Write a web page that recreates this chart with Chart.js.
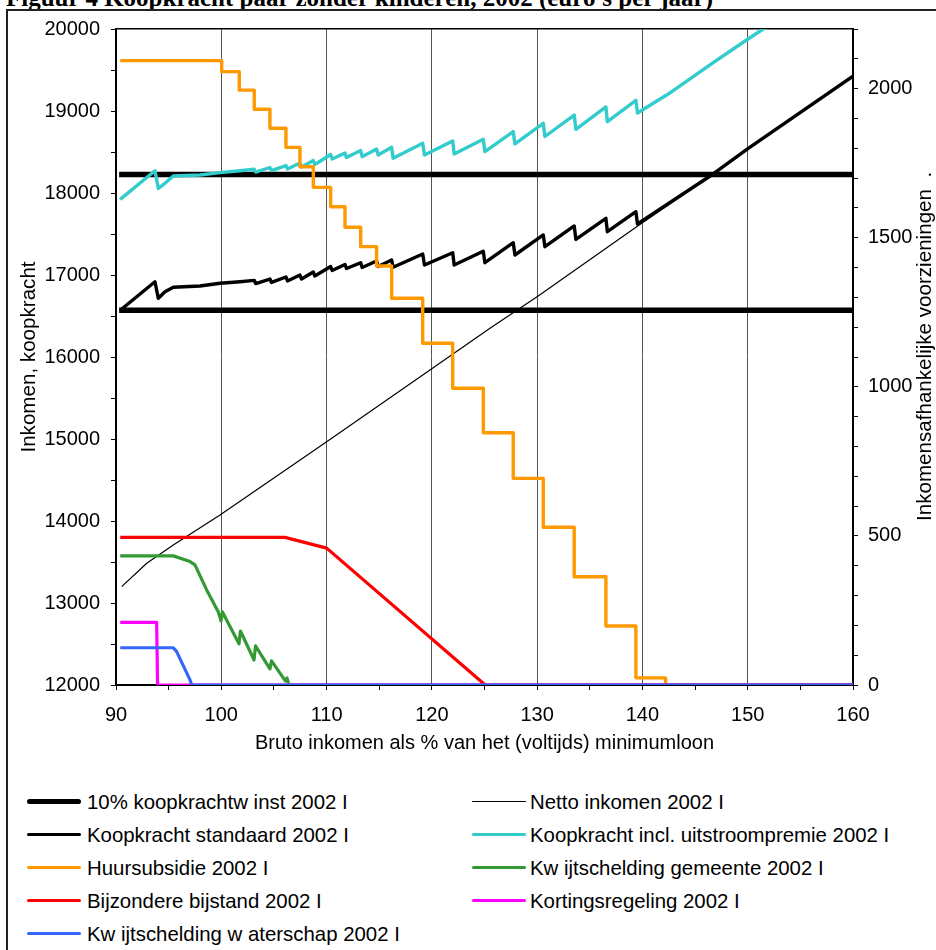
<!DOCTYPE html>
<html><head><meta charset="utf-8">
<script src="https://cdn.jsdelivr.net/npm/chart.js@4.4.0/dist/chart.umd.min.js"></script>
<style>
html,body{margin:0;padding:0;background:#fff;width:936px;height:950px;overflow:hidden;font-family:'Liberation Sans',Arial,sans-serif;}
#title{position:absolute;left:6px;top:-15px;font:bold 25px 'Liberation Serif','Times New Roman',serif;line-height:25px;white-space:nowrap;color:#000;}
#frame{position:absolute;left:6px;top:9px;width:960px;height:980px;border-left:2px solid #222;border-top:2px solid #222;box-sizing:border-box;}
#c{position:absolute;left:0;top:0;}
.lg-line{position:absolute;}
.lg-text{position:absolute;font-size:20.4px;line-height:24px;height:24px;white-space:pre;color:#000;}
</style></head>
<body>
<div id="title">Figuur 4 Koopkracht paar zonder kinderen, 2002 (euro's per jaar)</div>
<div id="frame"></div>
<canvas id="c" width="936" height="770"></canvas>
<div id="legend"></div>
<script>
// ---------- data ----------
const xTickLabels = [90, 100, 110, 120, 130, 140, 150, 160];
const yTickLabels = [12000, 13000, 14000, 15000, 16000, 17000, 18000, 19000, 20000];
const y2TickLabels = [0, 500, 1000, 1500, 2000];

const xTitle = 'Bruto inkomen als % van het (voltijds) minimumloon';
const yTitle = 'Inkomen, koopkracht';
const y2Title = 'Inkomensafhankelijke voorzieningen  .';

const winstX = [90.3, 160, 125, 90.3, 160];
const winstY = [16570, 16570, null, 18227, 18227];

const nettoX = [90.54, 92.92, 95.44, 99.88, 110.01, 119.82, 125.52, 130.1, 139.45, 146.72, 150.05, 160];
const nettoY = [13199, 13484, 13707, 14073, 14967, 15842, 16350, 16744, 17589, 18232, 18545, 19425];

const standaardX = [90.4, 93.70, 94.02, 94.65, 95.44, 97.98, 99.88, 101.78, 103.13, 103.27, 104.62, 104.77, 106.14, 106.29, 107.47, 107.62, 108.74, 108.88, 110.39, 110.53, 111.75, 111.89, 113.24, 113.38, 114.75, 114.90, 116.18, 116.32, 119.13, 119.30, 121.98, 122.12, 124.88, 125.04, 127.73, 127.89, 130.58, 130.74, 133.52, 133.68, 136.53, 136.67, 139.38, 139.53, 146.72, 150.05, 160];
const standaardY = [16570, 16918, 16716, 16796, 16850, 16866, 16899, 16918, 16935, 16896, 16951, 16909, 16976, 16927, 17000, 16951, 17037, 16988, 17104, 17055, 17128, 17079, 17150, 17092, 17171, 17104, 17183, 17094, 17256, 17122, 17272, 17122, 17289, 17150, 17394, 17244, 17488, 17345, 17598, 17435, 17691, 17528, 17772, 17622, 18232, 18545, 19425];

const uitstroomX = [90.4, 93.70, 94.02, 94.65, 95.44, 97.98, 99.88, 101.78, 103.13, 103.27, 104.62, 104.77, 106.14, 106.29, 107.47, 107.62, 108.74, 108.88, 110.39, 110.53, 111.75, 111.89, 113.24, 113.38, 114.75, 114.90, 116.18, 116.32, 119.13, 119.30, 121.98, 122.12, 124.88, 125.04, 127.73, 127.89, 130.58, 130.74, 133.52, 133.68, 136.53, 136.67, 139.38, 139.53, 142.45, 146.72, 149.89, 151.47, 154];
const uitstroomY = [17923, 18272, 18057, 18118, 18207, 18220, 18248, 18272, 18289, 18256, 18311, 18274, 18335, 18293, 18366, 18317, 18396, 18348, 18470, 18415, 18488, 18433, 18518, 18443, 18537, 18463, 18557, 18423, 18606, 18463, 18634, 18476, 18655, 18504, 18748, 18598, 18850, 18689, 18951, 18777, 19049, 18870, 19130, 18976, 19207, 19591, 19866, 20000, 20220];

const huurX = [90.4, 100.04, 101.71, 103.13, 104.62, 106.14, 107.47, 108.74, 110.39, 111.75, 113.24, 114.75, 116.18, 119.13, 121.98, 124.89, 127.73, 130.58, 133.52, 136.53, 139.38, 142.2, 160];
const huurY = [2094, 2057, 1995, 1931, 1867, 1803, 1738, 1669, 1604, 1535, 1470, 1405, 1297, 1146, 995, 846, 693, 529, 363, 198, 24, 0, 0];

const gemeenteX = [90.4, 95.44, 97.03, 97.5, 98.61, 99.71, 99.97, 100.11, 101.68, 101.82, 103.11, 103.25, 104.62, 104.77, 106.1, 106.24, 106.43, 160];
const gemeenteY = [433, 433, 414, 403, 319, 246, 215, 245, 138, 181, 84, 131, 54, 81, 13, 24, 0, 0];

const bijstandX = [90.4, 106.05, 110.01, 124.88, 125.1, 160];
const bijstandY = [495, 495, 459, 6, 0, 0];

const kortingX = [90.4, 93.86, 93.95, 160];
const kortingY = [210, 210, 0, 0];

const waterschapX = [90.4, 95.44, 95.76, 97.03, 97.19, 160];
const waterschapY = [125, 125, 112, 17, 0, 0];

// ---------- build ----------
const pts = (xs, ys) => xs.map((x, i) => ({x: x, y: ys[i]}));

const series = [
  {label: '10% koopkrachtw inst 2002 I', xs: winstX, ys: winstY, color: '#000000', width: 5.5, lw: 5, axis: 'y'},
  {label: 'Netto inkomen 2002 I', xs: nettoX, ys: nettoY, color: '#000000', width: 1.2, lw: 1.5, axis: 'y'},
  {label: 'Koopkracht standaard 2002 I', xs: standaardX, ys: standaardY, color: '#000000', width: 3.4, lw: 3.5, axis: 'y'},
  {label: 'Koopkracht incl. uitstroompremie 2002 I', xs: uitstroomX, ys: uitstroomY, color: '#33CCCC', width: 3.4, lw: 3.5, axis: 'y'},
  {label: 'Huursubsidie 2002 I', xs: huurX, ys: huurY, color: '#FF9900', width: 3.4, lw: 3.5, axis: 'y2', stepped: 'before'},
  {label: 'Kw ijtschelding gemeente 2002 I', xs: gemeenteX, ys: gemeenteY, color: '#339933', width: 3.2, lw: 3.5, axis: 'y2'},
  {label: 'Bijzondere bijstand 2002 I', xs: bijstandX, ys: bijstandY, color: '#FF0000', width: 3.2, lw: 3.5, axis: 'y2'},
  {label: 'Kortingsregeling 2002 I', xs: kortingX, ys: kortingY, color: '#FF00FF', width: 3.2, lw: 3.5, axis: 'y2'},
  {label: 'Kw ijtschelding w aterschap 2002 I', xs: waterschapX, ys: waterschapY, color: '#3366FF', width: 3.2, lw: 3.5, axis: 'y2'}
];

const datasets = series.map((s, i) => ({
  label: s.label,
  data: pts(s.xs, s.ys),
  borderColor: s.color,
  backgroundColor: s.color,
  borderWidth: s.width,
  pointRadius: 0,
  pointHoverRadius: 0,
  tension: 0,
  fill: false,
  spanGaps: false,
  stepped: s.stepped || false,
  borderJoinStyle: 'round',
  yAxisID: s.axis,
  order: series.length - i
}));

Chart.defaults.font.family = "'Liberation Sans', Arial, sans-serif";
Chart.defaults.font.size = 20;
Chart.defaults.color = '#000';

const rightTitle = {
  id: 'rightTitle',
  afterDraw(chart) {
    const c = chart.ctx;
    c.save();
    c.font = "20.6px 'Liberation Sans', Arial, sans-serif";
    c.fillStyle = '#000';
    c.textAlign = 'left';
    c.textBaseline = 'middle';
    c.translate(925, 521);
    c.rotate(-Math.PI / 2);
    c.fillText(y2Title, 0, 0);
    c.restore();
  }
};

new Chart(document.getElementById('c'), {
  type: 'line',
  data: {datasets: datasets},
  plugins: [rightTitle],
  options: {
    responsive: false,
    animation: false,
    events: [],
    layout: {padding: {left: 0, right: 0, top: 29, bottom: 0}},
    plugins: {legend: {display: false}, tooltip: {enabled: false}},
    scales: {
      x: {
        type: 'linear', position: 'bottom', min: 90, max: 160,
        afterFit: s => { s.height = 85; },
        ticks: {stepSize: 5, autoSkip: false, maxRotation: 0, padding: 13,
          callback: v => xTickLabels.includes(v) ? String(v) : ''},
        grid: {drawOnChartArea: true, tickLength: 5, tickColor: '#000', lineWidth: 1,
          color: ctx => (ctx.tick && xTickLabels.includes(ctx.tick.value) && ctx.tick.value > 90 && ctx.tick.value < 160) ? '#555' : 'rgba(0,0,0,0)'},
        border: {display: true, color: '#000', width: 2},
        title: {display: true, text: xTitle, padding: {top: 0, bottom: 15}}
      },
      xTop: {
        type: 'linear', position: 'top', min: 90, max: 160,
        afterFit: s => { s.height = 0; },
        ticks: {display: false},
        grid: {display: false, drawTicks: false},
        border: {display: true, color: '#000', width: 1.5}
      },
      y: {
        type: 'linear', position: 'left', min: 12000, max: 20000,
        afterFit: s => { s.width = 116; },
        ticks: {stepSize: 500, autoSkip: false, padding: 11,
          callback: v => yTickLabels.includes(v) ? String(v) : ''},
        grid: {drawOnChartArea: false, tickLength: 5, color: '#000'},
        border: {display: true, color: '#000', width: 2},
        title: {display: true, text: yTitle, padding: {top: 17, bottom: 0}, font: {size: 20.6}}
      },
      y2: {
        type: 'linear', position: 'right', min: 0, max: 2200,
        afterFit: s => { s.width = 83; },
        ticks: {stepSize: 100, autoSkip: false, padding: 10,
          callback: v => y2TickLabels.includes(v) ? String(v) : ''},
        grid: {drawOnChartArea: false, tickLength: 5, color: '#000'},
        border: {display: true, color: '#000', width: 2}
      }
    }
  }
});

// ---------- legend (two columns, built from the series) ----------
const legendLayout = {lineLeft: [27, 472], textLeft: [87, 530], lineLen: 54, rowTop: 801.5, rowStep: 33};
const lg = document.getElementById('legend');
series.forEach((s, i) => {
  const col = i % 2, row = Math.floor(i / 2);
  const cy = legendLayout.rowTop + row * legendLayout.rowStep;
  const line = document.createElement('div');
  line.className = 'lg-line';
  line.style.left = legendLayout.lineLeft[col] + 'px';
  line.style.width = legendLayout.lineLen + 'px';
  line.style.height = s.lw + 'px';
  line.style.top = (cy - s.lw / 2) + 'px';
  line.style.background = s.color;
  line.style.borderRadius = (s.lw / 2) + 'px';
  lg.appendChild(line);
  const t = document.createElement('div');
  t.className = 'lg-text';
  t.style.left = legendLayout.textLeft[col] + 'px';
  t.style.top = (cy - 12) + 'px';
  t.textContent = s.label;
  lg.appendChild(t);
});
</script>
</body></html>
